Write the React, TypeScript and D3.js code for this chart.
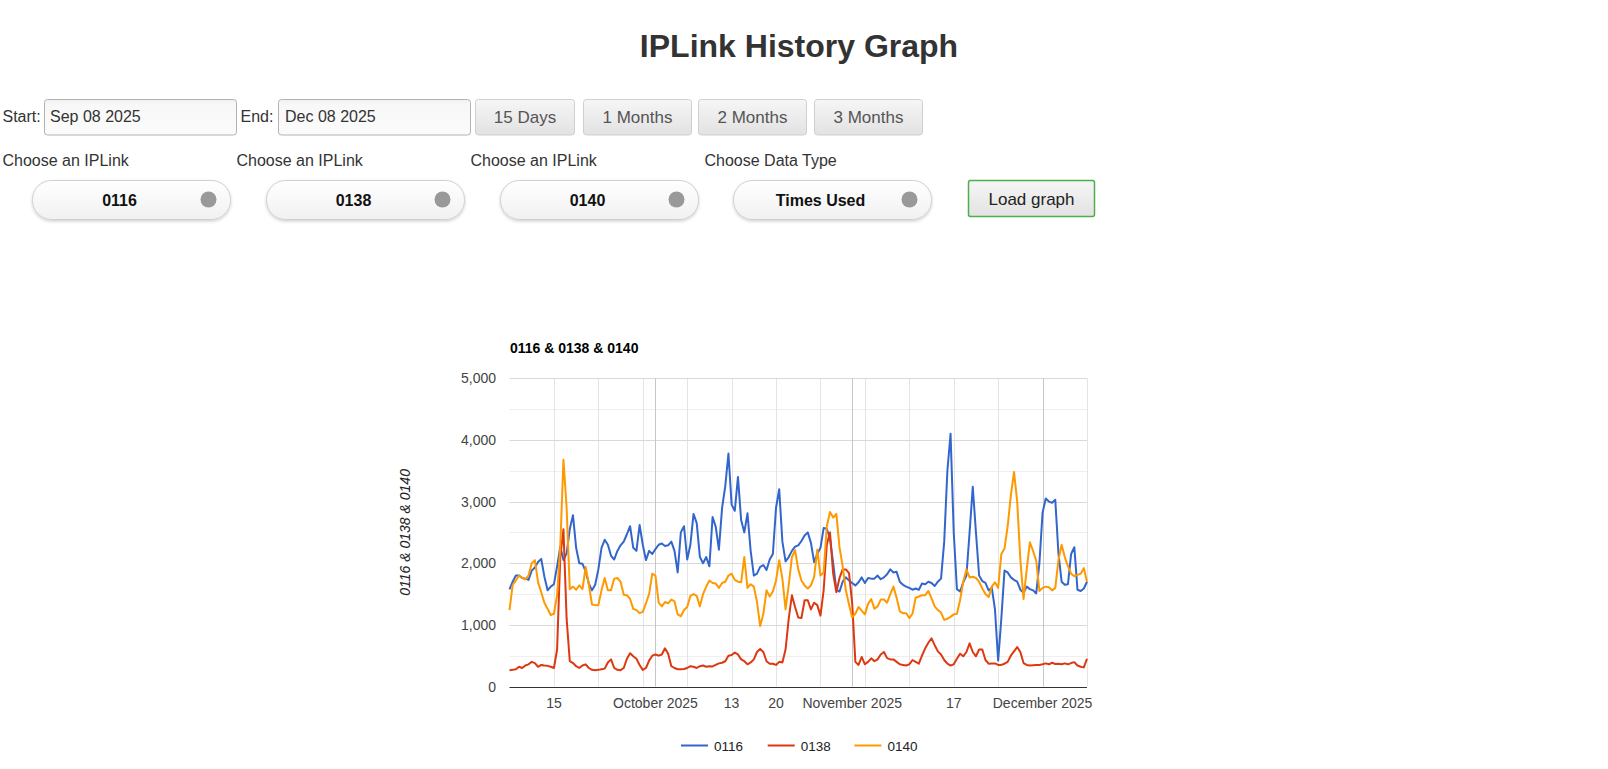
import React from 'react';
import * as d3 from 'd3';

// ---------- data ----------
const startDate = new Date(Date.UTC(2025, 8, 8));
const endDate = new Date(Date.UTC(2025, 11, 8));
const stepHours = 12;

const seriesNames = ['0116', '0138', '0140'];
const seriesColors = ['#3366cc', '#dc3912', '#ff9900'];

const values0116 = [
  1576, 1700, 1800, 1800, 1760, 1750, 1730, 1880, 1930, 2020, 2070, 1780, 1560, 1620, 1660, 1950, 2270, 2050, 2160, 2550, 2780, 2250, 2000, 1990, 1870, 1670, 1560, 1650, 1900, 2250, 2380, 2300, 2120, 2060, 2200, 2290, 2350, 2470, 2600, 2250, 2200, 2620, 2300, 2050, 2200, 2150,
  2230, 2300, 2320, 2280, 2290, 2350, 2200, 1850, 2500, 2600, 2060, 2300, 2800, 2650, 2100, 2000, 2100, 1950, 2750, 2590, 2220, 2900, 3250, 3780, 2950, 2850, 3400, 2700, 2500, 2810, 2200, 1800, 1830, 1940, 1970, 1890, 2060, 2150, 2900, 3200, 2350, 2030, 2100, 2200,
  2270, 2290, 2360, 2450, 2500, 2330, 2020, 2150, 2250, 2570, 2560, 2400, 2000, 1570, 1540, 1700, 1770, 1720, 1680, 1640, 1690, 1770, 1680, 1760, 1750, 1750, 1800, 1740, 1770, 1820, 1900, 1850, 1860, 1700, 1650, 1620, 1600, 1570, 1590, 1570, 1670, 1660, 1700, 1680, 1630, 1700,
  1750, 2350, 3500, 4100, 2500, 1580, 1540, 1690, 1800, 2500, 3240, 2500, 1800, 1710, 1680, 1560, 1600, 1250, 420, 1100, 1880, 1850, 1770, 1730, 1700, 1570, 1520, 1620, 1580, 1560, 1510, 2000, 2820, 3050, 3000, 2980, 3030, 2160, 1700, 1650, 1660, 2150, 2260, 1570, 1550, 1590, 1700,
];

const values0138 = [
  265, 270, 280, 320, 300, 340, 360, 400, 380, 320, 350, 340, 335, 320, 300, 600, 2100, 2550, 1100, 410, 380, 330, 300, 340, 360, 300, 270, 265, 270, 280, 290, 390, 440, 300, 270, 265, 300, 450, 540, 490, 450, 350, 270, 300, 420, 500,
  520, 500, 520, 620, 530, 330, 300, 280, 280, 285, 300, 330, 320, 300, 330, 340, 320, 330, 325, 350, 375, 385, 410, 500, 510, 550, 520, 440, 410, 360, 390, 440, 560, 610, 560, 410, 370, 370, 350, 400, 390, 600, 1100, 1480,
  1290, 1120, 1110, 1400, 1400, 1250, 1360, 1320, 1150, 1560, 2300, 2500, 1830, 1530, 1760, 1900, 1900, 1840, 1350, 400, 350, 480, 360, 400, 457, 410, 440, 520, 560, 460, 440, 440, 400, 360, 350, 340, 360, 430, 400, 370, 500, 620, 710, 780, 670, 570,
  520, 430, 370, 340, 360, 450, 530, 490, 560, 700, 560, 490, 600, 600, 430, 370, 375, 375, 350, 350, 370, 400, 500, 570, 640, 560, 380, 350, 340, 345, 350, 350, 360, 375, 360, 385, 365, 370, 360, 375, 360, 380, 395, 340, 320, 310, 450,
];

const values0140 = [
  1240, 1650, 1720, 1800, 1760, 1740, 1800, 2000, 2050, 1690, 1530, 1360, 1260, 1160, 1180, 1480, 2270, 3680, 2900, 1580, 1620, 1570, 1640, 1580, 1940, 1650, 1330, 1320, 1320, 1560, 1760, 1560, 1560, 1750, 1760, 1700, 1490, 1480, 1420, 1260, 1240, 1190, 1210, 1350, 1500, 1830,
  1800, 1360, 1300, 1370, 1350, 1410, 1380, 1170, 1140, 1240, 1290, 1470, 1500, 1470, 1300, 1500, 1620, 1720, 1680, 1670, 1600, 1680, 1700, 1800, 1830, 1730, 1700, 1690, 2100, 1600, 1660, 1620, 1370, 980, 1180, 1560, 1460, 1540, 1720, 2050, 1750, 1250, 1650, 2100,
  2210, 1900, 1720, 1640, 1590, 1640, 1780, 2220, 1800, 1850, 2600, 2830, 2740, 2800, 2260, 1950, 1560, 1330, 1120, 1180, 1290, 1230, 1170, 1340, 1420, 1260, 1300, 1410, 1410, 1360, 1500, 1620, 1440, 1220, 1190, 1190, 1110, 1180, 1440, 1460, 1480, 1480, 1550, 1430, 1300, 1240,
  1200, 1080, 1100, 1130, 1170, 1180, 1400, 1700, 1900, 1770, 1780, 1760, 1700, 1590, 1500, 1450, 1620, 1690, 1600, 2150, 2240, 2600, 3100, 3480, 3000, 2050, 1420, 1900, 2340, 2200, 2040, 1550, 1600, 1620, 1610, 1560, 1600, 2050, 2300, 2100, 1950, 1830, 1790, 1810, 1830, 1920, 1700,
];

const yTicks = [0, 1000, 2000, 3000, 4000, 5000];
const yMinorTicks = [500, 1500, 2500, 3500, 4500];
const xLabelDates = ['2025-09-15', '2025-10-01', '2025-10-13', '2025-10-20', '2025-11-01', '2025-11-17', '2025-12-01'];
const xLabelTexts = ['15', 'October 2025', '13', '20', 'November 2025', '17', 'December 2025'];

const pageTitle = 'IPLink History Graph';
const chartTitle = '0116 & 0138 & 0140';
const startText = 'Sep 08 2025';
const endText = 'Dec 08 2025';
const rangeButtons = ['15 Days', '1 Months', '2 Months', '3 Months'];
const pickerLabels = ['Choose an IPLink', 'Choose an IPLink', 'Choose an IPLink', 'Choose Data Type'];
const pickerValues = ['0116', '0138', '0140', 'Times Used'];

const FONT = "Arial, 'Liberation Sans', Helvetica, sans-serif";

export default function App() {
  const allValues = [values0116, values0138, values0140];
  const x = d3.scaleUtc().domain([startDate, endDate]).range([509.5, 1087]);
  const y = d3.scaleLinear().domain([0, 5000]).range([686.5, 378.3]);

  const dateAt = (i: number) => d3.utcHour.offset(startDate, i * stepHours);
  const line = d3
    .line<number>()
    .x((_, i) => x(dateAt(i)))
    .y((v) => y(v));

  const weeks = d3.utcMonday.range(d3.utcDay.offset(startDate, 1), d3.utcDay.offset(endDate, 1));
  const months = d3.utcMonth.range(startDate, endDate);
  const parse = d3.utcParse('%Y-%m-%d');

  const buttonX = [475.5, 583.5, 698.5, 814.5];
  const buttonW = [99, 108, 108, 108];
  const pickerX = [32.5, 266.5, 500.5, 733.5];
  const labelX = [2.5, 236.5, 470.5, 704.5];

  return (
    <svg
      width={1608}
      height={769}
      style={{ position: 'absolute', left: 0, top: 0, fontFamily: FONT }}
    >
      <defs>
        <linearGradient id="btnGrad" x1="0" y1="0" x2="0" y2="1">
          <stop offset="0" stopColor="#f6f6f6" />
          <stop offset="1" stopColor="#e2e2e2" />
        </linearGradient>
        <linearGradient id="inputGrad" x1="0" y1="0" x2="0" y2="1">
          <stop offset="0" stopColor="#f0f0f0" />
          <stop offset="0.15" stopColor="#f8f8f8" />
          <stop offset="1" stopColor="#fbfbfb" />
        </linearGradient>
        <linearGradient id="pillGrad" x1="0" y1="0" x2="0" y2="1">
          <stop offset="0" stopColor="#ffffff" />
          <stop offset="1" stopColor="#f1f1f1" />
        </linearGradient>
        <filter id="pillShadow" x="-10%" y="-20%" width="120%" height="160%">
          <feDropShadow dx="0" dy="1.5" stdDeviation="1.5" floodColor="#000" floodOpacity="0.18" />
        </filter>
      </defs>

      <rect x={0} y={0} width={1608} height={769} fill="#ffffff" />

      {/* page title */}
      <text x={799} y={57} textAnchor="middle" fontSize={32} fontWeight="bold" fill="#333">
        {pageTitle}
      </text>

      {/* date row */}
      <text x={2.5} y={122} fontSize={16} fill="#333">Start:</text>
      <rect x={44.5} y={99.5} width={192} height={35.5} rx={3} fill="url(#inputGrad)" stroke="#b3b3b3" />
      <text x={50} y={122} fontSize={16} fill="#333">{startText}</text>
      <text x={240.5} y={122} fontSize={16} fill="#333">End:</text>
      <rect x={278.5} y={99.5} width={192} height={35.5} rx={3} fill="url(#inputGrad)" stroke="#b3b3b3" />
      <text x={285} y={122} fontSize={16} fill="#333">{endText}</text>
      {rangeButtons.map((b, i) => (
        <g key={b}>
          <rect x={buttonX[i]} y={99.5} width={buttonW[i]} height={35.5} rx={3} fill="url(#btnGrad)" stroke="#cfcfcf" />
          <text x={buttonX[i] + buttonW[i] / 2} y={123} textAnchor="middle" fontSize={17} fill="#555">{b}</text>
        </g>
      ))}

      {/* pickers row */}
      {pickerLabels.map((l, i) => (
        <text key={'l' + i} x={labelX[i]} y={166} fontSize={16} fill="#333">{l}</text>
      ))}
      {pickerValues.map((v, i) => (
        <g key={'p' + i}>
          <rect x={pickerX[i]} y={180.5} width={198} height={39} rx={19} fill="url(#pillGrad)" stroke="#d0d0d0" filter="url(#pillShadow)" />
          <text x={pickerX[i] + 87} y={206} textAnchor="middle" fontSize={16} fontWeight="bold" fill="#111">{v}</text>
          <circle cx={pickerX[i] + 176} cy={199.5} r={8} fill="#999" />
        </g>
      ))}
      <rect x={968.5} y={180.5} width={126} height={36} rx={2} fill="url(#btnGrad)" stroke="#4cae4c" strokeWidth={1.5} />
      <text x={1031.5} y={204.5} textAnchor="middle" fontSize={17} fill="#222">Load graph</text>

      {/* chart title */}
      <text x={510} y={353} fontSize={14} fontWeight="bold" fill="#000">{chartTitle}</text>

      {/* gridlines */}
      {yMinorTicks.map((t) => (
        <line key={'ym' + t} x1={509.5} x2={1087} y1={Math.round(y(t)) + 0.5} y2={Math.round(y(t)) + 0.5} stroke="#efefef" />
      ))}
      {weeks.map((d) => (
        <line key={'w' + d.getTime()} x1={Math.round(x(d)) + 0.5} x2={Math.round(x(d)) + 0.5} y1={378.3} y2={686.5} stroke="#e4e4e4" />
      ))}
      {yTicks.filter((t) => t > 0).map((t) => (
        <line key={'y' + t} x1={509.5} x2={1087} y1={Math.round(y(t)) + 0.5} y2={Math.round(y(t)) + 0.5} stroke="#d9d9d9" />
      ))}
      {months.map((d) => (
        <line key={'m' + d.getTime()} x1={Math.round(x(d)) + 0.5} x2={Math.round(x(d)) + 0.5} y1={378.3} y2={686.5} stroke="#c6c6c6" />
      ))}

      {/* y labels */}
      {yTicks.map((t) => (
        <text key={'yl' + t} x={496} y={y(t) + 5} textAnchor="end" fontSize={14} fill="#444">
          {d3.format(',')(t)}
        </text>
      ))}

      {/* y axis title */}
      <text
        transform={`translate(410, ${(y(0) + y(5000)) / 2}) rotate(-90)`}
        textAnchor="middle"
        fontSize={14}
        fontStyle="italic"
        fill="#222"
      >
        {chartTitle}
      </text>

      {/* x labels */}
      {xLabelDates.map((ds, i) => (
        <text key={'xl' + ds} x={x(parse(ds) as Date)} y={708} textAnchor="middle" fontSize={14} fill="#444">
          {xLabelTexts[i]}
        </text>
      ))}

      {/* series */}
      {allValues.map((vals, si) => (
        <path
          key={seriesNames[si]}
          d={line(vals) || ''}
          fill="none"
          stroke={seriesColors[si]}
          strokeWidth={2}
          strokeLinejoin="round"
        />
      ))}

      {/* baseline */}
      <line x1={509.5} x2={1087} y1={Math.round(y(0)) + 0.5} y2={Math.round(y(0)) + 0.5} stroke="#333" />

      {/* legend */}
      {seriesNames.map((n, i) => (
        <g key={'lg' + n} transform={`translate(${681 + i * 86.7}, 745.5)`}>
          <line x1={0} x2={27} y1={0} y2={0} stroke={seriesColors[i]} strokeWidth={2} />
          <text x={33} y={5} fontSize={13.5} fill="#222">{n}</text>
        </g>
      ))}
    </svg>
  );
}
